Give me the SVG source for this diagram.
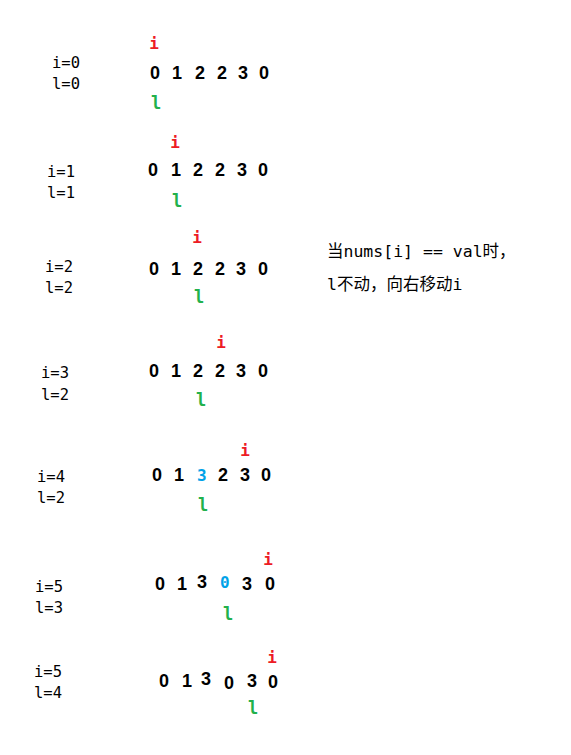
<svg xmlns="http://www.w3.org/2000/svg" width="571" height="755" viewBox="0 0 571 755">
<style>
.lab{font-family:"DejaVu Sans Mono","Liberation Mono",monospace;font-size:15.5px;fill:#000}
.d{font-family:"Liberation Sans",Arial,sans-serif;font-weight:bold;font-size:18px;fill:#000}
.b{font-family:"DejaVu Sans Mono","Liberation Mono",monospace;font-weight:bold;font-size:16px;fill:#00a2e8}
.ri{font-family:"DejaVu Sans Mono","Liberation Mono",monospace;font-weight:bold;font-size:16px;fill:#ed1c24;text-anchor:middle}
.gl{font-family:"DejaVu Sans Mono","Liberation Mono",monospace;font-weight:bold;font-size:17px;fill:#22b14c;text-anchor:middle}
.note{font-family:"DejaVu Sans Mono","Noto Sans CJK SC",monospace;font-size:16.5px;fill:#000}
</style>
<rect width="571" height="755" fill="#fff"/>
<g id="row1">
<text class="ri" x="154" y="49">i</text>
<text class="lab" x="52" y="68">i=0</text>
<text class="lab" x="52" y="89">l=0</text>
<text class="d" y="79"><tspan x="150">0</tspan><tspan x="172">1</tspan><tspan x="195">2</tspan><tspan x="217">2</tspan><tspan x="238">3</tspan><tspan x="259">0</tspan></text>
<text class="gl" x="156" y="109">l</text>
</g>
<g id="row2">
<text class="ri" x="175" y="148">i</text>
<text class="lab" x="47" y="177">i=1</text>
<text class="lab" x="47" y="198">l=1</text>
<text class="d" y="176"><tspan x="148">0</tspan><tspan x="171">1</tspan><tspan x="193">2</tspan><tspan x="215">2</tspan><tspan x="237">3</tspan><tspan x="258">0</tspan></text>
<text class="gl" x="177" y="207">l</text>
</g>
<g id="row3">
<text class="ri" x="197" y="243">i</text>
<text class="lab" x="45" y="272">i=2</text>
<text class="lab" x="45" y="293">l=2</text>
<text class="d" y="275"><tspan x="149">0</tspan><tspan x="171">1</tspan><tspan x="193">2</tspan><tspan x="215">2</tspan><tspan x="236">3</tspan><tspan x="258">0</tspan></text>
<text class="gl" x="199" y="303">l</text>
</g>
<g id="row4">
<text class="ri" x="221" y="348">i</text>
<text class="lab" x="41" y="378">i=3</text>
<text class="lab" x="41" y="400">l=2</text>
<text class="d" y="377"><tspan x="149">0</tspan><tspan x="171">1</tspan><tspan x="193">2</tspan><tspan x="215">2</tspan><tspan x="236">3</tspan><tspan x="258">0</tspan></text>
<text class="gl" x="201" y="406">l</text>
</g>
<g id="row5">
<text class="ri" x="245" y="456">i</text>
<text class="lab" x="37" y="482">i=4</text>
<text class="lab" x="37" y="503">l=2</text>
<text class="d" y="481"><tspan x="152">0</tspan><tspan x="174">1</tspan><tspan x="218">2</tspan><tspan x="240">3</tspan><tspan x="261">0</tspan></text>
<text class="b" x="197" y="481">3</text>
<text class="gl" x="203" y="511">l</text>
</g>
<g id="row6">
<text class="ri" x="268" y="565">i</text>
<text class="lab" x="35" y="592">i=5</text>
<text class="lab" x="35" y="613">l=3</text>
<text class="d" y="590"><tspan x="155">0</tspan><tspan x="177">1</tspan><tspan x="197" dy="-2">3</tspan><tspan x="242" dy="2">3</tspan><tspan x="265">0</tspan></text>
<text class="b" x="220" y="588">0</text>
<text class="gl" x="228" y="620">l</text>
</g>
<g id="row7">
<text class="ri" x="272" y="663">i</text>
<text class="lab" x="34" y="677">i=5</text>
<text class="lab" x="34" y="698">l=4</text>
<text class="d"><tspan x="159" y="687">0</tspan><tspan x="182" y="687">1</tspan><tspan x="201" y="685">3</tspan><tspan x="224" y="689">0</tspan><tspan x="247" y="687">3</tspan><tspan x="268" y="688">0</tspan></text>
<text class="gl" x="253" y="714">l</text>
</g>
<g id="note">
<text class="note" x="327" y="257">当nums[i] == val时，</text>
<text class="note" x="327" y="290">l不动，向右移动i</text>
</g>
</svg>
